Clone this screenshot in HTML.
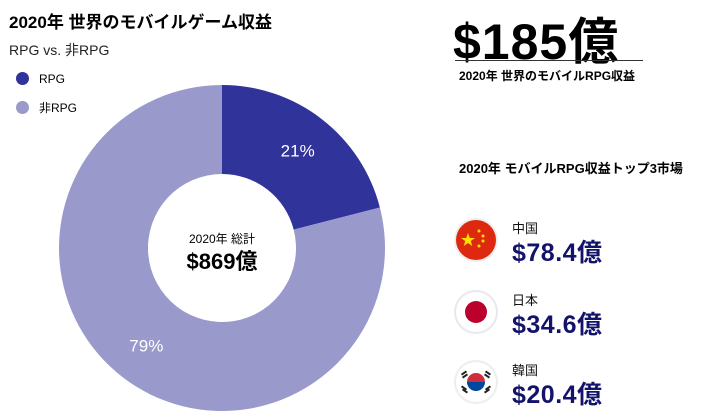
<!DOCTYPE html>
<html><head><meta charset="utf-8"><style>
body{margin:0;width:714px;height:419px;background:#fff;font-family:"Liberation Sans","Noto Sans CJK JP",sans-serif;position:relative;overflow:hidden}
.a{position:absolute;white-space:nowrap}
.b{font-weight:bold}
.num{color:#13136b;font-weight:bold;font-size:25px;letter-spacing:0.5px}
.lab{font-size:13px;color:#111}
</style></head><body>
<div class="a b" style="left:9px;top:8px;font-size:17px">2020年 世界のモバイルゲーム収益</div>
<div class="a" style="left:9px;top:40px;font-size:14px;color:#222">RPG vs. 非RPG</div>
<div class="a" style="left:16px;top:72px;font-size:12px"><span style="display:inline-block;width:13px;height:13px;border-radius:50%;background:#303399;vertical-align:-2px;margin-right:10px"></span>RPG</div>
<div class="a" style="left:16px;top:99px;font-size:12px"><span style="display:inline-block;width:13px;height:13px;border-radius:50%;background:#9999cc;vertical-align:-2px;margin-right:10px"></span>非RPG</div>
<svg class="a" id="donut" style="left:0;top:0" width="450" height="419"></svg>
<div class="a" style="left:172px;top:230px;width:100px;text-align:center;font-size:12px">2020年 総計</div>
<div class="a b" style="left:162px;top:244px;width:120px;text-align:center;font-size:22px">$869億</div>
<div class="a b" style="left:453px;top:2px;font-size:50px;letter-spacing:1px">$185億</div>
<div class="a" style="left:455px;top:60px;width:188px;height:1px;background:#333"></div>
<div class="a b" style="left:459px;top:67px;font-size:12px">2020年 世界のモバイルRPG収益</div>
<div class="a b" style="left:459px;top:158px;font-size:13px">2020年 モバイルRPG収益トップ3市場</div>

<div class="a" style="left:456px;top:220px;width:40px;height:40px;border-radius:50%;background:#de2910;box-shadow:0 0 0 2px #eee">
<svg width="40" height="40"><polygon points="12,13 13.8,18 19,18 14.8,21 16.3,26 12,23 7.7,26 9.2,21 5,18 10.2,18" fill="#ffde00"/><circle cx="23" cy="11" r="1.5" fill="#ffde00"/><circle cx="27" cy="16" r="1.5" fill="#ffde00"/><circle cx="27" cy="21" r="1.5" fill="#ffde00"/><circle cx="23" cy="26" r="1.5" fill="#ffde00"/></svg></div>
<div class="a lab" style="left:512px;top:218px">中国</div>
<div class="a num" style="left:512px;top:233px">$78.4億</div>

<div class="a" style="left:456px;top:292px;width:40px;height:40px;border-radius:50%;background:#fff;box-shadow:0 0 0 2px #e8e8f0"><div style="position:absolute;left:9px;top:9px;width:22px;height:22px;border-radius:50%;background:#bc002d"></div></div>
<div class="a lab" style="left:512px;top:290px">日本</div>
<div class="a num" style="left:512px;top:305px">$34.6億</div>

<div class="a" style="left:456px;top:362px;width:40px;height:40px;border-radius:50%;background:#fff;box-shadow:0 0 0 2px #eee">
<svg width="40" height="40"><path d="M11,20 A9,9 0 0 1 29,20 Z" fill="#cd2e3a"/><path d="M11,20 A9,9 0 0 0 29,20 Z" fill="#0047a0"/><g fill="#222"><rect x="5" y="10" width="6" height="2" transform="rotate(-35 8 11)"/><rect x="6" y="13" width="6" height="2" transform="rotate(-35 9 14)"/><rect x="29" y="25" width="6" height="2" transform="rotate(-35 32 26)"/><rect x="28" y="28" width="6" height="2" transform="rotate(-35 31 29)"/><rect x="29" y="10" width="6" height="2" transform="rotate(35 32 11)"/><rect x="28" y="13" width="6" height="2" transform="rotate(35 31 14)"/><rect x="5" y="25" width="6" height="2" transform="rotate(35 8 26)"/><rect x="6" y="28" width="6" height="2" transform="rotate(35 9 29)"/></g></svg></div>
<div class="a lab" style="left:512px;top:360px">韓国</div>
<div class="a num" style="left:512px;top:375px">$20.4億</div>

<script>
const categories = ["RPG", "非RPG"];
const shares = [21, 79];
const colors = ["#303399", "#9999cc"];
const svg = document.getElementById('donut');
const cx = 222, cy = 248, R = 163, r = 74;
const total = shares.reduce((a, b) => a + b, 0);
let start = 0;
function pt(frac, rad) { const a = frac * 2 * Math.PI - Math.PI / 2; return [cx + rad * Math.cos(a), cy + rad * Math.sin(a)]; }
shares.forEach((v, i) => {
  const f0 = start / total, f1 = (start + v) / total;
  const large = (f1 - f0) > 0.5 ? 1 : 0;
  const [x0, y0] = pt(f0, R), [x1, y1] = pt(f1, R), [x2, y2] = pt(f1, r), [x3, y3] = pt(f0, r);
  const p = document.createElementNS('http://www.w3.org/2000/svg', 'path');
  p.setAttribute('d', `M${x0},${y0} A${R},${R} 0 ${large} 1 ${x1},${y1} L${x2},${y2} A${r},${r} 0 ${large} 0 ${x3},${y3} Z`);
  p.setAttribute('fill', colors[i]);
  
  
  svg.appendChild(p);
  const [tx, ty] = pt((f0 + f1) / 2, (R + r) / 2 + 5);
  const t = document.createElementNS('http://www.w3.org/2000/svg', 'text');
  t.setAttribute('x', tx); t.setAttribute('y', ty + 6);
  t.setAttribute('text-anchor', 'middle'); t.setAttribute('fill', '#fff');
  t.setAttribute('font-size', '17');
  t.textContent = v + '%';
  
  
  svg.appendChild(t);
  start += v;
});
</script>
</body></html>
